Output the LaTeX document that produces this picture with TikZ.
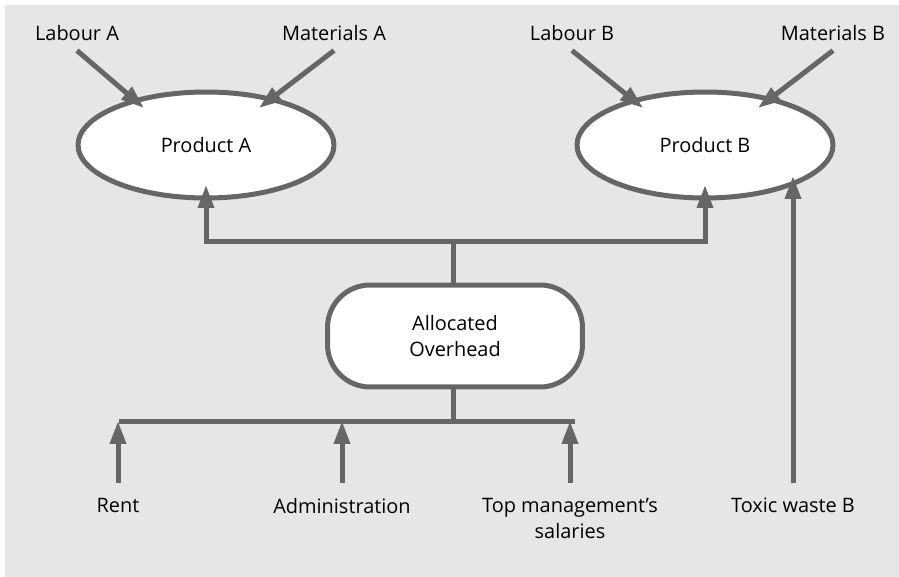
\documentclass[tikz,border=0pt]{standalone}
\usepackage{fontspec}
\setmainfont{Open Sans}
\usetikzlibrary{calc,shapes.geometric,arrows.meta}

\definecolor{bggray}{HTML}{E6E6E6}
\definecolor{linegray}{HTML}{666666}

\tikzset{
  wire/.style={line width=0.1cm, color=linegray},
  arr/.style={wire, -{Triangle[length=0.46cm, width=0.31cm]}},
  prod/.style={ellipse, draw=linegray, line width=0.1cm, fill=white,
    minimum width=5.12cm, minimum height=2.12cm, inner sep=0pt},
  ovhbox/.style={rectangle, rounded corners=0.85cm, draw=linegray, line width=0.1cm,
    fill=white, minimum width=5.1cm, minimum height=2.04cm, align=center, inner sep=0pt},
  lbl/.style={inner sep=0pt, align=center},
}

\begin{document}
\begin{tikzpicture}[x=0.02cm, y=-0.02cm, font=\fontsize{11.34}{14.8}\selectfont]
  %%%%% START %%%%%
  \useasboundingbox (0,0) rectangle (899,577);
  \fill[bggray] (5,5) rectangle (899,577);

  \node[prod] (prodA) at (206,145) {Product A};
  \node[prod] (prodB) at (705,145) {Product B};
  \node[ovhbox, font=\fontsize{11.34}{15.3}\selectfont] (ovh) at (455,336) {Allocated\\Overhead};

  \node[lbl, anchor=base] (labA) at (77,41) {Labour A};
  \node[lbl, anchor=base] (matA) at (334,41) {Materials A};
  \node[lbl, anchor=base] (labB) at (572,41) {Labour B};
  \node[lbl, anchor=base] (matB) at (833,41) {Materials B};

  \node[lbl, anchor=north] (rent) at (118,498) {Rent};
  \node[lbl, anchor=north] (admin) at (342,498) {Administration};
  \node[lbl, anchor=north] (topmgmt) at (570,498) {Top management's\\salaries};
  \node[lbl, anchor=north] (toxic) at (793,498) {Toxic waste B};

  \coordinate (topbar) at (453,242);
  \coordinate (busL) at (119,421);
  \coordinate (busR) at (575,421);

  % direct costs
  \draw[arr] ([yshift=-0.18cm]labA.south) -- ($(prodA.center)+(-62,-37)$);
  \draw[arr] ([yshift=-0.18cm]matA.south) -- ($(prodA.center)+(53,-37)$);
  \draw[arr] ([yshift=-0.18cm]labB.south) -- ($(prodB.center)+(-62,-37)$);
  \draw[arr] ([yshift=-0.18cm]matB.south) -- ($(prodB.center)+(53,-37)$);
  \draw[arr, shorten <=0.3cm, shorten >=0.62cm] (toxic.north) -- (toxic.north |- prodB.center);

  % overhead split
  \draw[wire] (topbar |- ovh.north) -- (topbar);
  \draw[arr, shorten >=0.8cm] (topbar) -| (prodA.center);
  \draw[arr, shorten >=0.8cm] (topbar) -| (prodB.center);

  % overhead pool
  \draw[wire] (busL) -- (busR);
  \draw[wire] (topbar |- ovh.south) -- (topbar |- busL);
  \draw[arr, shorten <=0.3cm] (rent.north) -- (rent.north |- busL);
  \draw[arr, shorten <=0.3cm] (admin.north) -- (admin.north |- busL);
  \draw[arr, shorten <=0.3cm] (topmgmt.north) -- (topmgmt.north |- busL);
  %%%%% END %%%%%
\end{tikzpicture}
\end{document}
